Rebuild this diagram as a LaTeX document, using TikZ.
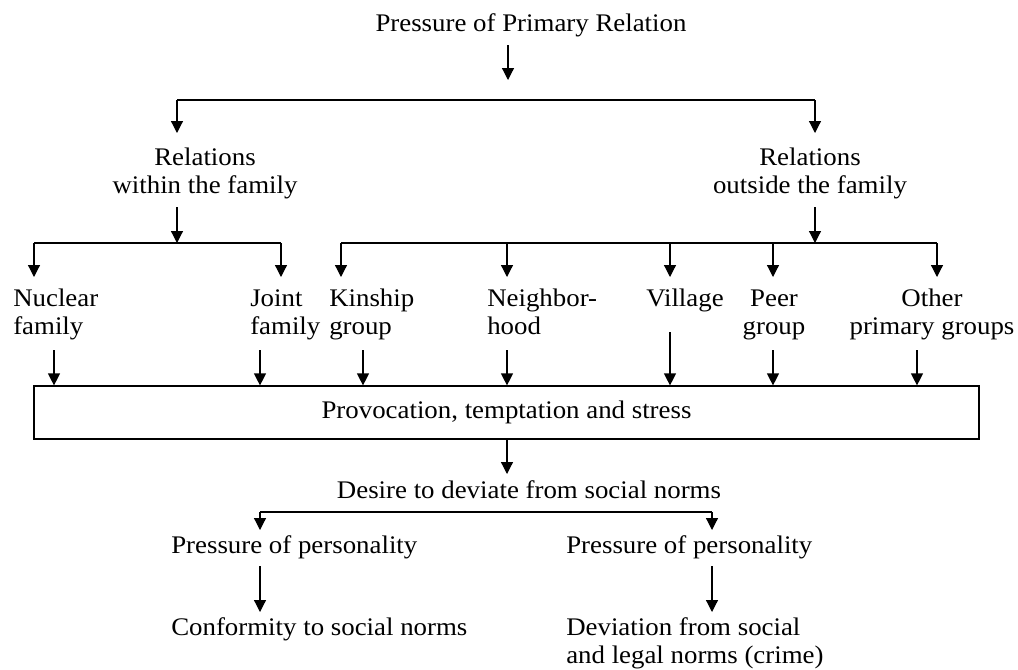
\documentclass[tikz,border=0pt]{standalone}
\usepackage{fontspec}
\setmainfont{Liberation Serif}[FakeStretch=1.06]
\usetikzlibrary{arrows.meta}
\begin{document}
\begin{tikzpicture}[x=0.75pt,y=-0.75pt,
  lbl/.style={inner sep=0pt, font=\fontsize{19pt}{21pt}\selectfont},
  arr/.style={-{Triangle[width=9pt,length=9pt]}, line width=0.9pt},
  bar/.style={line width=0.9pt}]
\useasboundingbox (0,0) rectangle (1018,669);

% ---- labels ----
\node[lbl, anchor=base] (top) at (531,31) {Pressure of Primary Relation};
\node[lbl, anchor=north, align=center] (relw) at (205,145.4) {\strut Relations\\\strut within the family};
\node[lbl, anchor=north, align=center] (relo) at (810,145.4) {\strut Relations\\\strut outside the family};

\node[lbl, anchor=north west, align=left] (nuc)   at (13,286.4)  {\strut Nuclear\\\strut family};
\node[lbl, anchor=north west, align=left] (joint) at (250,286.4) {\strut Joint\\\strut family};
\node[lbl, anchor=north west, align=left] (kin)   at (329,286.4) {\strut Kinship\\\strut group};
\node[lbl, anchor=north west, align=left] (nbr)   at (487,286.4) {\strut Neighbor-\\\strut hood};
\node[lbl, anchor=base] (vil) at (685,306) {Village};
\node[lbl, anchor=north, align=center] (peer)  at (774,286.4) {\strut Peer\\\strut group};
\node[lbl, anchor=north, align=center] (other) at (932,286.4) {\strut Other\\\strut primary groups};

\node[lbl, draw, line width=0.9pt, minimum width=708.75pt, minimum height=39.75pt] (box) at (506.5,412.5)
  {Provocation, temptation and stress};

\node[lbl, anchor=base] (desire) at (529,498) {Desire to deviate from social norms};
\node[lbl, anchor=base west] (ppl) at (171,553) {Pressure of personality};
\node[lbl, anchor=base west] (ppr) at (566,553) {Pressure of personality};
\node[lbl, anchor=base west] (conf) at (171,635) {Conformity to social norms};
\node[lbl, anchor=north west, align=left] (dev) at (566,615.4) {\strut Deviation from social\\\strut and legal norms (crime)};

% ---- top split ----
\coordinate (t0) at (508,45);  \coordinate (t1) at (508,80);
\draw[arr] (t0) -- (t1);
\coordinate (bL) at (177,100); \coordinate (bR) at (815,100);
\draw[bar] (bL) -- (bR);
\draw[arr] (bL) -- (177,133);
\draw[arr] (bR) -- (815,133);

% ---- family branch ----
\coordinate (w0) at (177,207); \coordinate (w1) at (177,243);
\draw[arr] (w0) -- (w1);
\coordinate (fL) at (34,243); \coordinate (fR) at (281,243);
\draw[bar] (fL) -- (fR);
\draw[arr] (fL) -- (34,277);
\draw[arr] (fR) -- (281,277);

% ---- outside branch ----
\coordinate (o0) at (815,207); \coordinate (o1) at (815,243);
\draw[arr] (o0) -- (o1);
\coordinate (oL) at (341,243); \coordinate (oR) at (937,243);
\draw[bar] (oL) -- (oR);
\foreach \x in {341,507,670,773,937} \draw[arr] (\x,243) -- (\x,277);

% ---- into the box ----
\foreach \x in {54,260,363,507,773,917} {
  \coordinate (p\x) at (\x,350);
  \draw[arr] (p\x) -- (p\x |- box.north);
}
\coordinate (p670) at (670,332);
\draw[arr] (p670) -- (p670 |- box.north);

% ---- lower part ----
\coordinate (d1) at (507,474);
\draw[arr] (box.south -| d1) -- (d1);
\coordinate (dL) at (260,512); \coordinate (dR) at (712,512);
\draw[bar] (dL) -- (dR);
\draw[arr] (dL) -- (260,530);
\draw[arr] (dR) -- (712,530);
\draw[arr] (260,566) -- (260,612);
\draw[arr] (712,566) -- (712,612);
\end{tikzpicture}
\end{document}
